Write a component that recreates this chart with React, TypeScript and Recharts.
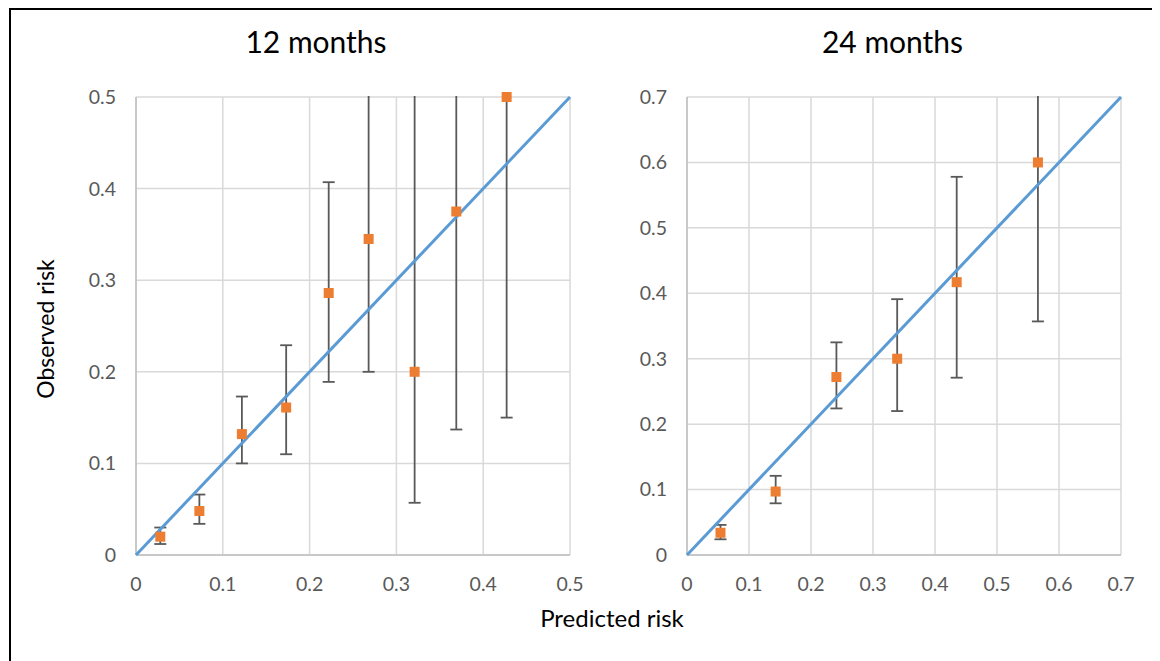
import React from "react";
import { ScatterChart, Scatter, XAxis, YAxis, CartesianGrid, ErrorBar } from "recharts";

// 12 months: predicted vs observed risk, with 95% CI bounds
const predicted12 = [0.028, 0.073, 0.122, 0.173, 0.222, 0.268, 0.321, 0.369, 0.427];
const observed12 = [0.02, 0.048, 0.132, 0.161, 0.286, 0.345, 0.2, 0.375, 0.5];
const lower12 = [0.012, 0.034, 0.1, 0.11, 0.189, 0.2, 0.057, 0.137, 0.15];
const upper12 = [0.03, 0.066, 0.173, 0.229, 0.407, 0.6, 0.6, 0.65, 0.75];

// 24 months
const predicted24 = [0.054, 0.143, 0.241, 0.339, 0.435, 0.566];
const observed24 = [0.034, 0.097, 0.272, 0.3, 0.417, 0.6];
const lower24 = [0.024, 0.079, 0.224, 0.22, 0.271, 0.357];
const upper24 = [0.046, 0.121, 0.325, 0.391, 0.578, 0.8];

const ticks12 = [0, 0.1, 0.2, 0.3, 0.4, 0.5];
const ticks24 = [0, 0.1, 0.2, 0.3, 0.4, 0.5, 0.6, 0.7];

const FONT = "Lato, 'Open Sans', sans-serif";
const tickStyle = { fill: "#595959", fontSize: 19.5, fontFamily: FONT };
const axisLineStyle = { stroke: "#BFBFBF", strokeWidth: 1.5 };

const CHART_W = 580;
const CHART_H = 620;
const TOP = 89;
const BOTTOM = 43;
const X_AXIS_H = 30;

const buildRows = (predicted: number[], observed: number[], lower: number[], upper: number[]) =>
  predicted.map((x, i) => ({
    x,
    y: observed[i],
    ci: [observed[i] - lower[i], upper[i] - observed[i]],
  }));

const Empty = () => <g />;

const SquareMarker = ({ cx, cy }: any) => (
  <rect x={cx - 5} y={cy - 5} width={10} height={10} fill="#ED7D31" />
);

type PanelProps = {
  predicted: number[];
  observed: number[];
  lower: number[];
  upper: number[];
  ticks: number[];
  left: number;
  yAxisWidth: number;
  rightMargin: number;
};

const CalibrationPanel = ({ predicted, observed, lower, upper, ticks, left, yAxisWidth, rightMargin }: PanelProps) => {
  const max = ticks[ticks.length - 1];
  const rows = buildRows(predicted, observed, lower, upper);
  const diagonal = [
    { x: ticks[0], y: ticks[0] },
    { x: max, y: max },
  ];

  return (
    <>
      {/* grid, axes and CI bars; the wrapper cuts the bars off at the top of the plot */}
      <div style={{ position: "absolute", left, top: TOP - 1, width: CHART_W, height: CHART_H - TOP + 1, overflow: "hidden" }}>
        <div style={{ position: "absolute", left: 0, top: -(TOP - 1) }}>
          <ScatterChart width={CHART_W} height={CHART_H} margin={{ top: TOP, right: rightMargin, left: 0, bottom: BOTTOM }}>
            <CartesianGrid stroke="#D9D9D9" strokeWidth={1.5} />
            <XAxis
              type="number"
              dataKey="x"
              domain={[0, max]}
              ticks={ticks}
              height={X_AXIS_H}
              tickLine={false}
              axisLine={axisLineStyle}
              tickMargin={16}
              tick={tickStyle}
            />
            <YAxis
              type="number"
              dataKey="y"
              domain={[0, max]}
              ticks={ticks}
              width={yAxisWidth}
              tickLine={false}
              axisLine={axisLineStyle}
              tick={tickStyle}
              tickFormatter={() => ""}
              allowDataOverflow
            />
            <Scatter data={rows} shape={Empty} isAnimationActive={false}>
              <ErrorBar dataKey="ci" direction="y" width={6} stroke="#595959" strokeWidth={1.8} isAnimationActive={false} />
            </Scatter>
          </ScatterChart>
        </div>
      </div>
      {/* y tick labels, diagonal and observed points */}
      <div style={{ position: "absolute", left, top: 0 }}>
        <ScatterChart
          width={CHART_W}
          height={CHART_H}
          margin={{ top: TOP, right: rightMargin, left: 0, bottom: BOTTOM + X_AXIS_H }}
        >
          <XAxis type="number" dataKey="x" domain={[0, max]} hide />
          <YAxis
            type="number"
            dataKey="y"
            domain={[0, max]}
            ticks={ticks}
            width={yAxisWidth}
            tickLine={false}
            axisLine={false}
            tickMargin={14}
            tick={tickStyle}
          />
          <Scatter data={diagonal} line={{ stroke: "#5B9BD5", strokeWidth: 3 }} shape={Empty} isAnimationActive={false} />
          <Scatter data={rows} shape={SquareMarker} isAnimationActive={false} />
        </ScatterChart>
      </div>
    </>
  );
};

export default function App() {
  return (
    <div style={{ position: "relative", width: 1152, height: 653, fontFamily: FONT, overflow: "hidden" }}>
      <div
        style={{
          position: "absolute",
          left: 1,
          top: 0,
          width: 1151,
          height: 653,
          borderTop: "2px solid #000",
          borderLeft: "2px solid #000",
          boxSizing: "border-box",
        }}
      />
      <CalibrationPanel
        predicted={predicted12}
        observed={observed12}
        lower={lower12}
        upper={upper12}
        ticks={ticks12}
        left={0}
        yAxisWidth={128}
        rightMargin={18}
      />
      <CalibrationPanel
        predicted={predicted24}
        observed={observed24}
        lower={lower24}
        upper={upper24}
        ticks={ticks24}
        left={560}
        yAxisWidth={119}
        rightMargin={27}
      />
      <svg
        width={1152}
        height={653}
        style={{ position: "absolute", left: 0, top: 0, pointerEvents: "none" }}
        fontFamily={FONT}
      >
        <text x={308} y={45} textAnchor="middle" fontSize={30} fill="#000">
          12 months
        </text>
        <text x={884.5} y={45} textAnchor="middle" fontSize={30} fill="#000">
          24 months
        </text>
        <text x={46} y={321} textAnchor="middle" fontSize={23} fill="#000" transform="rotate(-90 46 321)">
          Observed risk
        </text>
        <text x={604} y={619} textAnchor="middle" fontSize={24} fill="#000">
          Predicted risk
        </text>
      </svg>
    </div>
  );
}
